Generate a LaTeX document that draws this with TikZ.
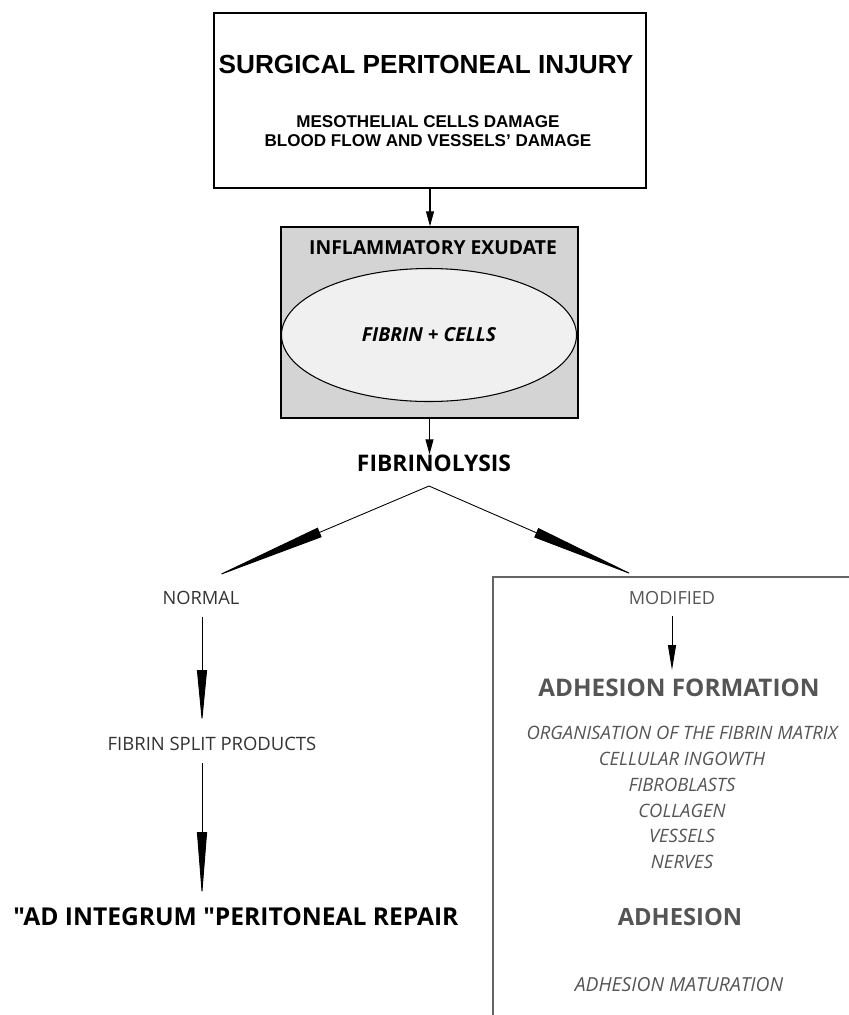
\documentclass[tikz,border=0pt]{standalone}
\usepackage{fontspec}
\setmainfont{Liberation Sans}
\newfontfamily\humfont{Open Sans}
\usetikzlibrary{arrows.meta}
\usetikzlibrary{positioning}
\usetikzlibrary{shapes.geometric}

\definecolor{exudategray}{RGB}{212,212,212}
\definecolor{fibrinfill}{RGB}{240,240,240}
\definecolor{textgray}{RGB}{85,85,85}
\definecolor{darktext}{RGB}{50,50,50}
\definecolor{framegray}{RGB}{100,100,100}

\tikzset{
    flow/.style={line width=0.6pt, -{Triangle[length=15*0.02cm, width=8*0.02cm]}},
    wedge/.style={line width=0.5pt, -{Triangle[length=#1*0.02cm, width=10*0.02cm]}},
    label/.style={inner sep=0pt, align=center},
}

\begin{document}
\begin{tikzpicture}[x=0.02cm, y=-0.02cm]
            \useasboundingbox (0,0) rectangle (849,1015);

            % injury box
            \draw[line width=1pt] (214,13) rectangle (646,188);
            \node[label, font=\fontsize{14.9}{17}\selectfont\bfseries] (injury) at (426,64) {SURGICAL PERITONEAL INJURY};
            \node[label, font=\fontsize{9.7}{12}\selectfont\bfseries] (damage) at (428,131) {MESOTHELIAL CELLS DAMAGE\\[-1pt] BLOOD FLOW AND VESSELS' DAMAGE};
            \coordinate (injurybottom) at (430,188);

            % exudate box
            \node[draw, line width=0.8pt, fill=exudategray, minimum width=297*0.02cm, minimum height=191*0.02cm] (exudate) at (429.5,322.5) {};
            \node[label, font=\humfont\fontsize{11}{13}\selectfont\bfseries] (exudatetitle) at (433,248) {INFLAMMATORY EXUDATE};
            \node[ellipse, draw, line width=0.6pt, fill=fibrinfill, minimum width=295*0.02cm, minimum height=133*0.02cm, font=\humfont\fontsize{11}{13}\selectfont\bfseries\itshape] (fibrin) at (429,335) {FIBRIN + CELLS};

            \draw[flow] (injurybottom) -- (injurybottom |- exudate.north);

            % fibrinolysis
            \node[label, font=\humfont\fontsize{13}{15}\selectfont\bfseries] (lysis) at (434,463) {FIBRINOLYSIS};
            \draw[flow] (exudate.south) -- (exudate.south |- lysis.north);
            \coordinate (apex) at (429,486);
            \coordinate (normalend) at (212,578);
            \coordinate (modifiedend) at (638,577);
            \draw[wedge=117] (apex) -- (normalend);
            \draw[wedge=111] (apex) -- (modifiedend);

            % normal pathway
            \node[label, text=darktext, font=\humfont\fontsize{10.4}{12}\selectfont] (normal) at (201,598) {NORMAL};
            \node[label, text=darktext, font=\humfont\fontsize{10.5}{12}\selectfont] (split) at (212,744) {FIBRIN SPLIT PRODUCTS};
            \node[label, font=\humfont\fontsize{14}{16}\selectfont\bfseries] (repair) at (236,917) {"AD INTEGRUM "PERITONEAL REPAIR};
            \coordinate (normaltop) at (202,617);
            \coordinate (splittop) at (202,723);
            \coordinate (splitbottom) at (202,763);
            \coordinate (repairtop) at (202,897);
            \draw[wedge=53] (normaltop) -- (splittop);
            \draw[wedge=65] (splitbottom) -- (repairtop);

            % modified pathway
            \draw[line width=1.6pt, framegray] (860,577) -| (493,1015);
            \node[label, text=textgray, font=\humfont\fontsize{10.3}{12}\selectfont] (modified) at (672,598) {MODIFIED};
            \node[label, text=textgray, font=\humfont\fontsize{13.8}{16}\selectfont\bfseries] (formation) at (679,688) {ADHESION FORMATION};
            \node[label, text=textgray, font=\humfont\fontsize{10.5}{14.7}\selectfont\itshape] (steps) at (682,797.5) {ORGANISATION OF THE FIBRIN MATRIX\\ CELLULAR INGOWTH\\ FIBROBLASTS\\ COLLAGEN\\ VESSELS\\ NERVES};
            \node[label, text=textgray, font=\humfont\fontsize{13.5}{15}\selectfont\bfseries] (adhesion) at (680,917) {ADHESION};
            \node[label, text=textgray, font=\humfont\fontsize{11}{12}\selectfont\itshape] (maturation) at (679,985) {ADHESION MATURATION};
            \coordinate (modifiedtop) at (672,616);
            \coordinate (formationtop) at (672,670);
            \draw[line width=0.5pt, -{Triangle[length=25*0.02cm, width=8*0.02cm]}] (modifiedtop) -- (formationtop);
        \end{tikzpicture}
\end{document}
